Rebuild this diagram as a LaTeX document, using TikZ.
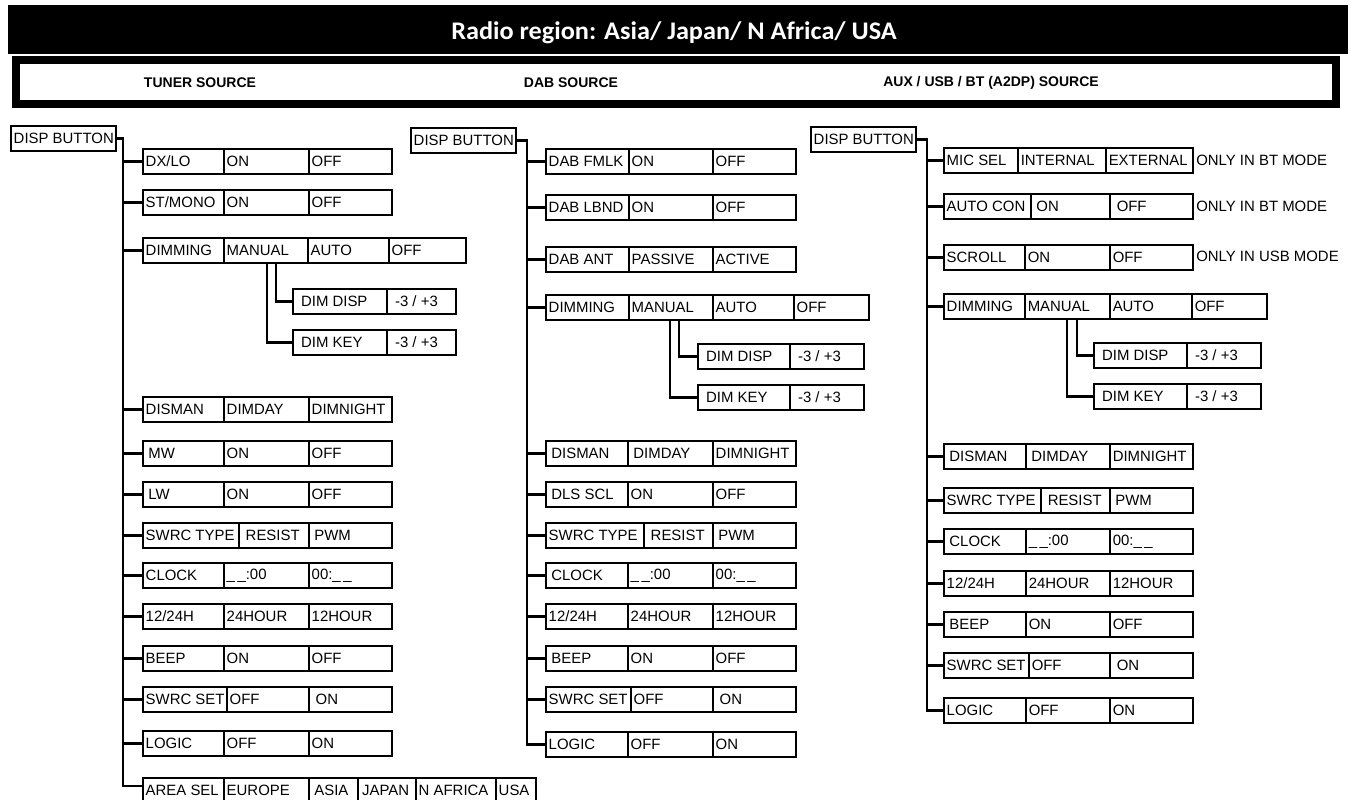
\documentclass[tikz,border=0pt]{standalone}
\usepackage{graphicx}
\usepackage{fontspec}
\setmainfont{Liberation Sans}
\newfontfamily\titlefont{Carlito}
\usetikzlibrary{calc}
\tikzset{
  cell/.style={draw, line width=1.6pt, minimum height=18.75pt, inner xsep=2pt, inner ysep=0pt,
    font=\fontsize{11.2}{13}\selectfont},
  conn/.style={line width=1.9pt},
  note/.style={anchor=west, inner sep=0pt, font=\fontsize{11.2}{13}\selectfont},
  head/.style={inner sep=0pt, font=\bfseries\fontsize{10.5}{12}\selectfont}
}
\newcommand\cellbox[5]{%
  \pgfmathsetmacro\cbw{(#3-(#2))*0.75}%
  \pgfmathsetmacro\cbt{\cbw-4}%
  \node[cell, minimum width=\cbw pt, anchor=north west] (#1) at (#2,#4) {\makebox[\cbt pt][l]{#5}};}
\newcommand\rowthree[9]{%
  \cellbox{#1a}{#3}{#4}{#2}{#7}\cellbox{#1b}{#4}{#5}{#2}{#8}\cellbox{#1c}{#5}{#6}{#2}{#9}}
\newcommand\br[2]{\draw[conn] (#1 |- #2.west) -- (#2.west);}
\begin{document}
\begin{tikzpicture}[x=0.75pt, y=-0.75pt]
\useasboundingbox (0,0) rectangle (1351,799);
\fill[white] (0,0) rectangle (1351,799);
% title bar
\fill[black] (8,5) rectangle (1348,54);
\node[font=\titlefont\bfseries\fontsize{19}{22}\selectfont, text=white, anchor=base, inner sep=0pt] (title) at (674,40) {\scalebox{1.037}[1]{Radio region: Asia/ Japan/ N Africa/ USA}};
% header band
\fill[black] (12,56) rectangle (1340,108);
\fill[white] (20,64) rectangle (1332,100);
\node[head] (h1) at (200,83) {TUNER SOURCE};
\node[head] (h2) at (571,83) {DAB SOURCE};
\node[head] (h3) at (991,83) {AUX / USB / BT (A2DP) SOURCE};

% ================= TUNER =================
\cellbox{tdisp}{10}{115}{125}{DISP BUTTON}
\coordinate (tT) at (123,0);
\rowthree{tdx}{148}{142}{223}{308}{391}{DX/LO}{ON}{OFF}
\rowthree{tst}{189}{142}{223}{308}{391}{ST/MONO}{ON}{OFF}
\cellbox{tdima}{142}{223}{237}{DIMMING}
\cellbox{tdimb}{223}{307}{237}{MANUAL}
\cellbox{tdimc}{307}{388}{237}{AUTO}
\cellbox{tdimd}{388}{465}{237}{OFF}
\cellbox{tddisa}{292}{386}{288}{\hspace*{4pt}DIM DISP}
\cellbox{tddisb}{386}{455}{288}{\hspace*{4pt}-3 / +3}
\cellbox{tdkeya}{292}{386}{329}{\hspace*{4pt}DIM KEY}
\cellbox{tdkeyb}{386}{455}{329}{\hspace*{4pt}-3 / +3}
\rowthree{tdsm}{396}{142}{223}{308}{391}{DISMAN}{DIMDAY}{DIMNIGHT}
\rowthree{tmw}{440}{142}{223}{308}{391}{\hspace*{2pt}MW}{ON}{OFF}
\rowthree{tlw}{481}{142}{223}{308}{391}{\hspace*{2pt}LW}{ON}{OFF}
\rowthree{tswt}{522}{142}{238}{308}{391}{SWRC TYPE}{\hspace*{3pt}RESIST}{\hspace*{2pt}PWM}
\rowthree{tclk}{562}{142}{223}{308}{391}{CLOCK}{\_\,\_:00}{00:\_\,\_}
\rowthree{thr}{603}{142}{223}{308}{391}{12/24H}{24HOUR}{12HOUR}
\rowthree{tbp}{645}{142}{223}{308}{391}{BEEP}{ON}{OFF}
\rowthree{tsws}{686}{142}{226}{308}{391}{SWRC SET}{OFF}{\hspace*{3pt}ON}
\rowthree{tlg}{730}{142}{223}{308}{391}{LOGIC}{OFF}{ON}
\cellbox{tara}{142}{223}{777}{AREA SEL}
\cellbox{tarb}{223}{308}{777}{EUROPE}
\cellbox{tarc}{308}{357}{777}{\hspace*{2pt}ASIA}
\cellbox{tard}{357}{415}{777}{\hspace*{1pt}JAPAN}
\cellbox{tare}{415}{495}{777}{N AFRICA}
\cellbox{tarf}{495}{535}{777}{USA}
\coordinate (tarj) at ($(tara.north west)+(0,9)$);
\draw[conn] (tdisp.east) -| (tT |- tarj) -- (tarj);
\foreach \r in {tdxa,tsta,tdima,tdsma,tmwa,tlwa,tswta,tclka,thra,tbpa,tswsa,tlga}{\br{tT}{\r}}
\coordinate (tk1) at (267,0);
\coordinate (tk2) at (276,0);
\draw[conn] (tdimb.south -| tk2) |- (tddisa.west);
\draw[conn] (tdimb.south -| tk1) |- (tdkeya.west);

% ================= DAB =================
\cellbox{ddisp}{410}{515}{127}{DISP BUTTON}
\coordinate (dT) at (527,0);
\rowthree{dfm}{148}{545}{628}{712}{795}{DAB FMLK}{ON}{OFF}
\rowthree{dlb}{194}{545}{628}{712}{795}{DAB LBND}{ON}{OFF}
\rowthree{dan}{246}{545}{628}{712}{795}{DAB ANT}{PASSIVE}{ACTIVE}
\cellbox{ddima}{545}{628}{294}{DIMMING}
\cellbox{ddimb}{628}{712}{294}{MANUAL}
\cellbox{ddimc}{712}{793}{294}{AUTO}
\cellbox{ddimd}{793}{868}{294}{OFF}
\cellbox{dddisa}{697}{789}{343}{\hspace*{4pt}DIM DISP}
\cellbox{dddisb}{789}{863}{343}{\hspace*{4pt}-3 / +3}
\cellbox{ddkeya}{697}{789}{384}{\hspace*{4pt}DIM KEY}
\cellbox{ddkeyb}{789}{863}{384}{\hspace*{4pt}-3 / +3}
\rowthree{ddsm}{440}{545}{627}{712}{795}{\hspace*{2pt}DISMAN}{\hspace*{2pt}DIMDAY}{DIMNIGHT}
\rowthree{ddls}{481}{545}{627}{712}{795}{\hspace*{2pt}DLS SCL}{ON}{OFF}
\rowthree{dswt}{522}{545}{643}{712}{795}{SWRC TYPE}{\hspace*{3pt}RESIST}{\hspace*{2pt}PWM}
\rowthree{dclk}{562}{545}{627}{712}{795}{\hspace*{2pt}CLOCK}{\_\,\_:00}{00:\_\,\_}
\rowthree{dhr}{603}{545}{627}{712}{795}{12/24H}{24HOUR}{12HOUR}
\rowthree{dbp}{645}{545}{627}{712}{795}{\hspace*{2pt}BEEP}{ON}{OFF}
\rowthree{dsws}{686}{545}{630}{712}{795}{SWRC SET}{OFF}{\hspace*{3pt}ON}
\rowthree{dlg}{731}{545}{627}{712}{795}{LOGIC}{OFF}{ON}
\draw[conn] (ddisp.east) -| (dT |- dlga.west) -- (dlga.west);
\foreach \r in {dfma,dlba,dana,ddima,ddsma,ddlsa,dswta,dclka,dhra,dbpa,dswsa}{\br{dT}{\r}}
\coordinate (dk1) at (670,0);
\coordinate (dk2) at (679,0);
\draw[conn] (ddimb.south -| dk2) |- (dddisa.west);
\draw[conn] (ddimb.south -| dk1) |- (ddkeya.west);

% ================= AUX =================
\cellbox{adisp}{810}{915}{126}{DISP BUTTON}
\coordinate (aT) at (927,0);
\rowthree{amic}{147}{943}{1017}{1105}{1192}{MIC SEL}{INTERNAL}{EXTERNAL}
\rowthree{aac}{193}{943}{1030}{1109}{1192}{AUTO CON}{\hspace*{2pt}ON}{\hspace*{3pt}OFF}
\rowthree{asc}{244}{943}{1024}{1109}{1192}{SCROLL}{ON}{OFF}
\node[note] (n1) at (1196,160) {ONLY IN BT MODE};
\node[note] (n2) at (1196,206) {ONLY IN BT MODE};
\node[note] (n3) at (1196,256) {ONLY IN USB MODE};
\cellbox{adima}{943}{1024}{293}{DIMMING}
\cellbox{adimb}{1024}{1109}{293}{MANUAL}
\cellbox{adimc}{1109}{1191}{293}{AUTO}
\cellbox{adimd}{1191}{1266}{293}{OFF}
\cellbox{addisa}{1093}{1186}{342}{\hspace*{4pt}DIM DISP}
\cellbox{addisb}{1186}{1260}{342}{\hspace*{4pt}-3 / +3}
\cellbox{adkeya}{1093}{1186}{383}{\hspace*{4pt}DIM KEY}
\cellbox{adkeyb}{1186}{1260}{383}{\hspace*{4pt}-3 / +3}
\rowthree{adsm}{443}{943}{1025}{1109}{1192}{\hspace*{2pt}DISMAN}{\hspace*{2pt}DIMDAY}{DIMNIGHT}
\rowthree{aswt}{487}{943}{1040}{1109}{1192}{SWRC TYPE}{\hspace*{3pt}RESIST}{\hspace*{2pt}PWM}
\rowthree{aclk}{528}{943}{1025}{1109}{1192}{\hspace*{2pt}CLOCK}{\_\,\_:00}{00:\_\,\_}
\rowthree{ahr}{570}{943}{1025}{1109}{1192}{12/24H}{24HOUR}{12HOUR}
\rowthree{abp}{611}{943}{1025}{1109}{1192}{\hspace*{2pt}BEEP}{ON}{OFF}
\rowthree{asws}{652}{943}{1028}{1109}{1192}{SWRC SET}{OFF}{\hspace*{3pt}ON}
\rowthree{alg}{697}{943}{1025}{1109}{1192}{LOGIC}{OFF}{ON}
\draw[conn] (adisp.east) -| (aT |- alga.west) -- (alga.west);
\foreach \r in {amica,aaca,asca,adima,adsma,aswta,aclka,ahra,abpa,aswsa}{\br{aT}{\r}}
\coordinate (ak1) at (1067,0);
\coordinate (ak2) at (1077,0);
\draw[conn] (adimb.south -| ak2) |- (addisa.west);
\draw[conn] (adimb.south -| ak1) |- (adkeya.west);
\end{tikzpicture}
\end{document}
